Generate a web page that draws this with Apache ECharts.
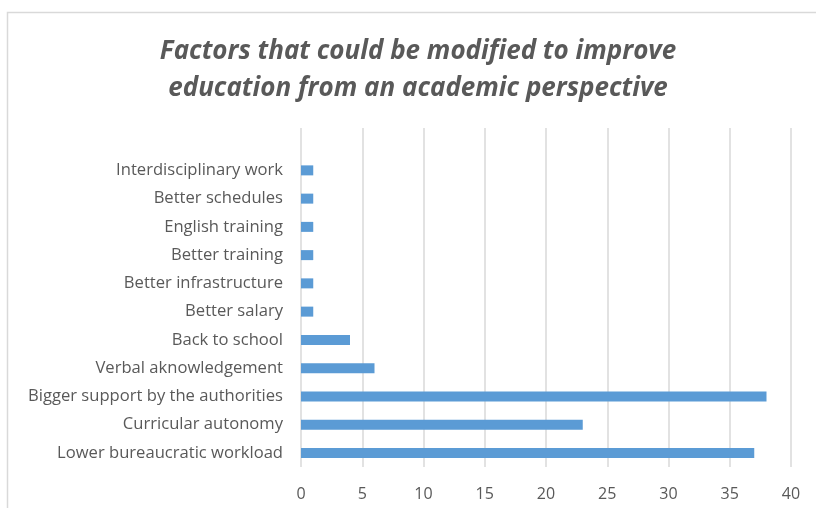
<!DOCTYPE html>
<html>
<head>
<meta charset="utf-8">
<script src="https://cdn.jsdelivr.net/npm/echarts@6/dist/echarts.min.js"></script>
<style>
html, body { margin: 0; padding: 0; background: #fff; }
#chart { width: 816px; height: 508px; }
</style>
</head>
<body>
<div id="chart"></div>
<script>
// categories bottom -> top (the empty top slot is the spare band Excel leaves)
const categories = [
  'Lower bureaucratic workload',
  'Curricular autonomy',
  'Bigger support by the authorities',
  'Verbal aknowledgement',
  'Back to school',
  'Better salary',
  'Better infrastructure',
  'Better training',
  'English training',
  'Better schedules',
  'Interdisciplinary work',
  ''
]
const values = [37, 23, 38, 6, 4, 1, 1, 1, 1, 1, 1, null]
const xTicks = { min: 0, max: 40, interval: 5 }

const chart = echarts.init(document.getElementById('chart'))
const option = {
  animation: false,
  backgroundColor: '#fff',
  title: {
    text: 'Factors that could be modified to improve\neducation from an academic perspective',
    left: 413,
    top: 28,
    textAlign: 'center',
    textStyle: {
      fontFamily: 'Open Sans',
      fontStyle: 'italic',
      fontWeight: 'bold',
      fontSize: 26,
      lineHeight: 37,
      color: '#595959'
    }
  },
  graphic: [{
    type: 'rect',
    shape: { x: 7.5, y: 12.5, width: 900, height: 600 },
    style: { fill: 'none', stroke: '#d9d9d9', lineWidth: 1.5 },
    silent: true
  }],
  grid: {
    left: 301,
    right: 25,
    top: 128,
    bottom: 41
  },
  xAxis: {
    type: 'value',
    min: xTicks.min,
    max: xTicks.max,
    interval: xTicks.interval,
    axisLine: { show: false },
    axisTick: { show: false },
    axisLabel: {
      color: '#595959',
      fontFamily: 'Open Sans',
      fontSize: 16,
      margin: 19
    },
    splitLine: { lineStyle: { color: '#d9d9d9', width: 1.5 } }
  },
  yAxis: {
    type: 'category',
    data: categories,
    axisLine: { show: false },
    axisTick: { show: false },
    axisLabel: {
      color: '#595959',
      fontFamily: 'Open Sans',
      fontSize: 16.6,
      margin: 18
    }
  },
  series: [{
    type: 'bar',
    data: values,
    barWidth: 10,
    itemStyle: { color: '#5b9bd5' }
  }]
}
chart.setOption(option)
</script>
</body>
</html>
